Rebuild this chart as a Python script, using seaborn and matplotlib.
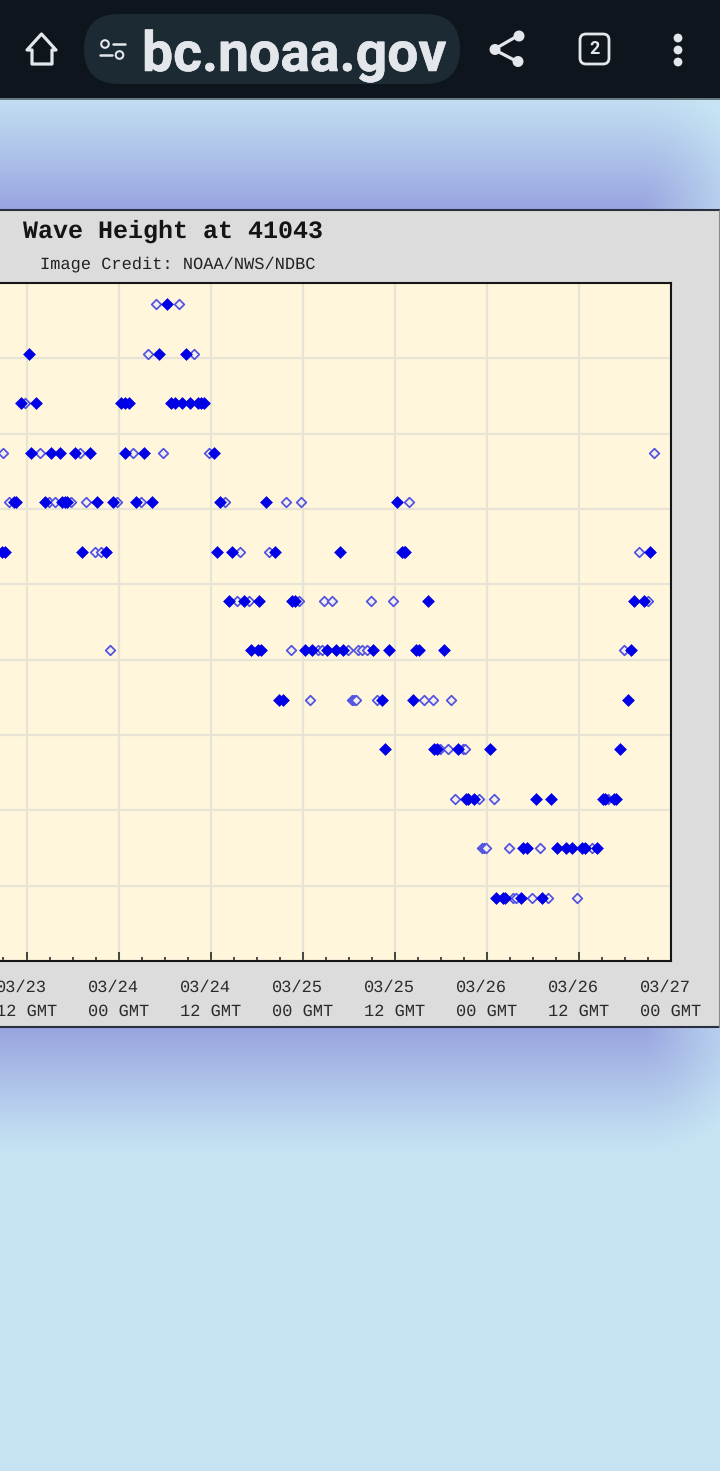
import numpy as np
import pandas as pd
import matplotlib.pyplot as plt
import matplotlib.patheffects as pe
from matplotlib.patches import Rectangle, FancyBboxPatch, Circle, Polygon
from matplotlib.ticker import MultipleLocator
import seaborn as sns

sns.set_theme(style="white")
plt.rcParams['font.family'] = ['Liberation Mono', 'DejaVu Sans Mono']
plt.rcParams['text.hinting'] = 'no_hinting'
plt.rcParams['text.hinting_factor'] = 1

# wave height rows in metres, times in hours after 03/23 12 GMT
alturas = [5.4, 5.2, 5.0, 4.8, 4.6, 4.4, 4.2, 4.0, 3.8, 3.6, 3.4, 3.2, 3.0]

cheio_54 = [18.32]
vazio_54 = [16.88, 19.82]
cheio_52 = [0.33, 17.28, 20.80]
vazio_52 = [15.78, 21.84]
cheio_50 = [-0.76, 1.24, 12.26, 12.78, 13.30, 18.84, 19.30, 20.27, 21.25, 22.36, 22.75, 23.14]
vazio_50 = [-0.20]
cheio_48 = [0.59, 3.19, 4.37, 6.32, 8.34, 12.78, 15.25, 24.38]
vazio_48 = [-3.06, 1.76, 6.98, 13.82, 17.80, 23.79, 81.81]
cheio_46 = [-1.69, -1.37, 2.35, 4.63, 5.02, 5.28, 9.19, 11.21, 14.28, 16.36, 25.23, 31.23, 48.31]
vazio_46 = [-2.28, 2.93, 3.72, 5.80, 7.76, 11.80, 14.93, 25.88, 33.83, 35.79, 49.80]
cheio_44 = [-3.19, -2.80, 7.24, 10.37, 24.77, 26.79, 32.33, 40.81, 48.89, 49.15, 49.35, 81.29]
vazio_44 = [8.93, 9.71, 27.84, 31.62, 79.82]
cheio_42 = [26.36, 28.36, 30.35, 34.55, 35.01, 52.35, 79.20, 80.42]
vazio_42 = [27.41, 28.97, 35.53, 38.83, 39.87, 44.92, 47.82, 81.03]
cheio_40 = [29.23, 30.18, 30.57, 36.31, 37.26, 39.22, 40.31, 41.23, 45.22, 47.26, 50.74, 51.21, 54.39, 78.85]
vazio_40 = [10.89, 34.45, 38.04, 38.49, 41.88, 43.22, 43.70, 44.35, 77.81]
cheio_38 = [32.92, 33.44, 46.35, 50.35, 78.42]
vazio_38 = [36.92, 42.40, 42.74, 42.96, 45.74, 51.83, 52.96, 55.38]
cheio_36 = [46.78, 53.13, 53.48, 56.30, 60.39, 77.29]
vazio_36 = [53.91, 54.92, 56.95, 57.17]
cheio_34 = [57.30, 57.60, 58.38, 66.39, 68.34, 75.12, 75.42, 76.51, 76.86]
vazio_34 = [55.83, 59.03, 60.95, 75.82]
cheio_32 = [64.77, 65.21, 69.13, 70.34, 71.16, 72.39, 72.82, 74.42]
vazio_32 = [59.35, 59.65, 59.91, 62.91, 66.95, 73.69]
cheio_30 = [61.17, 62.16, 62.38, 64.43, 67.25]
vazio_30 = [63.39, 63.82, 65.82, 67.95, 71.81]

cheios = [cheio_54, cheio_52, cheio_50, cheio_48, cheio_46, cheio_44, cheio_42,
          cheio_40, cheio_38, cheio_36, cheio_34, cheio_32, cheio_30]
vazios = [vazio_54, vazio_52, vazio_50, vazio_48, vazio_46, vazio_44, vazio_42,
          vazio_40, vazio_38, vazio_36, vazio_34, vazio_32, vazio_30]

rotulos_x = ["03/23\n12 GMT", "03/24\n00 GMT", "03/24\n12 GMT", "03/25\n00 GMT",
             "03/25\n12 GMT", "03/26\n00 GMT", "03/26\n12 GMT", "03/27\n00 GMT"]

linhas = []
for h, c, v in zip(alturas, cheios, vazios):
    linhas += [{'hora': t, 'pes': h * 3.2808, 'tipo': 'cheio'} for t in c]
    linhas += [{'hora': t, 'pes': h * 3.2808, 'tipo': 'vazio'} for t in v]
df = pd.DataFrame(linhas)

fig = plt.figure(figsize=(7.2, 14.71), dpi=100)

# ---- page behind the chart, in pixel coordinates ----
fundo = fig.add_axes([0, 0, 1, 1], zorder=0)
fundo.axis('off')

# soft shadow of the panel
xx, yy = np.meshgrid(np.arange(720) + 0.5, np.arange(1471) + 0.5)
dx = np.clip(xx - 640, 0, None)
dy = np.clip(np.maximum(210 - yy, yy - 1027), 0, None)
forca = np.clip(1 - np.hypot(dx, dy) / 125, 0, 1) ** 1.15
claro = np.array([197, 227, 243]) / 255
roxo = np.array([152, 163, 224]) / 255
img = claro + forca[..., None] * (roxo - claro)
fundo.imshow(img, extent=(0, 720, 1471, 0), aspect='auto', zorder=0)
fundo.set_xlim(0, 720)
fundo.set_ylim(1471, 0)

# grey panel
fundo.add_patch(Rectangle((0, 210), 720, 817, fc='#dcdcdc', ec='none', zorder=1))
fundo.plot([0, 720], [209.5, 209.5], color='#2b3040', lw=1.5, zorder=2)
fundo.plot([0, 720], [1027, 1027], color='#2b3040', lw=1.5, zorder=2)
fundo.plot([719.3, 719.3], [210, 1027], color='#8a8a8a', lw=0.8, zorder=2)

fundo.text(23, 238, "Wave Height at 41043", fontsize=18.3, fontweight='bold',
           color='#141414', zorder=3)
fundo.text(40, 268, "Image Credit: NOAA/NWS/NDBC", fontsize=12.2, color='#222222', zorder=3)

# browser bar
branco = '#e3e6ea'
fundo.add_patch(Rectangle((0, 0), 720, 98, fc='#0e151c', ec='none', zorder=4))
fundo.plot([0, 720], [98.5, 98.5], color='#56666f', lw=1.2, zorder=5)
fundo.add_patch(FancyBboxPatch((84, 14), 376, 70, boxstyle="round,pad=0,rounding_size=35",
                               fc='#1b2a33', ec='none', zorder=5))
fundo.text(142, 71, "bc.noaa.gov", family='Roboto', fontweight='bold', fontsize=39.8,
           color=branco, zorder=6,
           path_effects=[pe.withStroke(linewidth=0.4, foreground=branco)])

# home
fundo.add_patch(Polygon([(41.5, 34), (27, 50), (32, 50), (32, 64), (52, 64), (52, 50), (56, 50)],
                        closed=True, fc='none', ec=branco, lw=2.3, joinstyle='round', zorder=6))
# tune
fundo.add_patch(Circle((105, 44), 3.8, fc='none', ec=branco, lw=1.5, zorder=6))
fundo.plot([113, 125], [44, 44], color=branco, lw=1.8, zorder=6)
fundo.plot([100, 112], [55, 55], color=branco, lw=1.8, zorder=6)
fundo.add_patch(Circle((119.5, 55), 3.8, fc='none', ec=branco, lw=1.5, zorder=6))
# share
fundo.plot([519, 494, 518], [35, 49.5, 62], color=branco, lw=2.3, zorder=6)
for cx, cy in [(519, 36), (495, 49.5), (518, 61.5)]:
    fundo.add_patch(Circle((cx, cy), 5.5, fc=branco, ec='none', zorder=6))
# tabs
fundo.add_patch(FancyBboxPatch((580, 34), 29, 30, boxstyle="round,pad=0,rounding_size=6",
                               fc='none', ec=branco, lw=2, zorder=6))
fundo.text(594.5, 49.5, "2", family='Roboto', fontweight='bold', fontsize=13, color=branco,
           ha='center', va='center', zorder=6)
# menu
for cy in [38, 50, 62]:
    fundo.add_patch(Circle((678, cy), 4.4, fc=branco, ec='none', zorder=6))

# ---- chart ----
ax = fig.add_axes([0, (1471 - 961) / 1471, 671 / 720, 678 / 1471], zorder=1)
ax.set_facecolor('#fff6dc')

sns.scatterplot(data=df[df['tipo'] == 'vazio'], x='hora', y='pes', marker='D', s=24,
                facecolor='#f4efe6', edgecolor='#5252e2', linewidth=1.25, ax=ax, zorder=3)
sns.scatterplot(data=df[df['tipo'] == 'cheio'], x='hora', y='pes', marker='D', s=36,
                color='#0000e6', edgecolor='#0000e6', linewidth=0.5, ax=ax, zorder=4)

ax.set_xlim(-26.5 / 7.67, 84)
ax.set_ylim(9, 18)
ax.set_xlabel("")
ax.set_ylabel("")

ax.xaxis.set_minor_locator(MultipleLocator(3))
ax.yaxis.set_major_locator(MultipleLocator(1))
ax.set_xticks(np.arange(0, 85, 12))
ax.set_xticklabels(rotulos_x, fontsize=12.2, color='#2a2a2a', linespacing=1.65)
for t in ax.get_xticklabels():
    t.set_multialignment('left')
ax.set_yticklabels([])

ax.grid(True, which='major', color='#e7e3d5', lw=1.6)
ax.set_axisbelow(True)
ax.tick_params(axis='x', which='major', direction='in', length=6.5, width=1.1, color='#1a1a1a',
               bottom=True, pad=13.5)
ax.tick_params(axis='x', which='minor', direction='in', length=3, width=1.1, color='#1a1a1a',
               bottom=True)
ax.tick_params(axis='y', length=0)

ax.spines['left'].set_visible(False)
for lado in ['top', 'right', 'bottom']:
    ax.spines[lado].set_color('#151515')
    ax.spines[lado].set_linewidth(1.5)

plt.savefig("out.png", dpi=100)
